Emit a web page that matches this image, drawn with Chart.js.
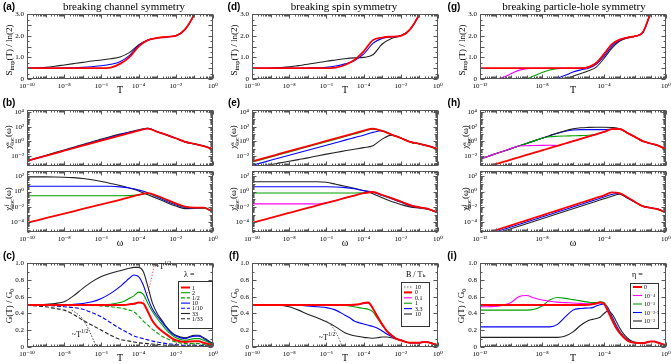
<!DOCTYPE html>
<html>
<head>
<meta charset="utf-8">
<title>Breaking channel, spin and particle-hole symmetry</title>
<script src="https://cdn.jsdelivr.net/npm/chart.js@4.4.1/dist/chart.umd.min.js"></script>
<style>
  html, body { margin: 0; padding: 0; background: #fff; }
  body { position: relative; width: 671px; height: 364px; overflow: hidden;
         font-family: "Liberation Serif", "DejaVu Serif", serif; color: #000; }
  canvas { position: absolute; }
  .txt { position: absolute; transform: translate(-50%, -50%); white-space: nowrap; line-height: 1; }
  .rot { transform: translate(-50%, -50%) rotate(-90deg); }
  .letter { font: bold 10px "Liberation Sans", "DejaVu Sans", sans-serif; }
  .head { font-size: 11px; }
  .ylab { font-size: 9px; }
  .note { font-size: 8px; }
  sub, sup { font-size: 70%; line-height: 0; }
  .ss { display: inline-block; vertical-align: middle; font-size: 70%; line-height: 0.85; text-align: left; }
</style>
</head>
<body>
<script>
// ---- x grids, log10(T) or log10(omega) ----
const logT10 = [-10,-9.5,-9,-8.5,-8,-7.5,-7,-6.5,-6,-5.5,-5,-4.5,-4,-3.5,-3,-2.5,-2,-1.5,-1,-0.5,0];
const logT12 = [-12,-11.5,-11,-10.5,-10,-9.5,-9,-8.5,-8,-7.5,-7,-6.5,-6,-5.5,-5,-4.5,-4,-3.5,-3,-2.5,-2,-1.5,-1,-0.5,0];
const logTG10 = [-10,-9.5,-9,-8.5,-8,-7.5,-7,-6.5,-6,-5.5,-5,-4.75,-4.5,-4.25,-4,-3.75,-3.5,-3.25,-3,-2.75,-2.5,-2.25,-2,-1.5,-1,-0.75,-0.5,0];
const logTG12 = [-12,-11.5,-11,-10.5,-10,-9.5,-9,-8.5,-8,-7.5,-7,-6.5,-6,-5.5,-5,-4.75,-4.5,-4.25,-4,-3.75,-3.5,-3.25,-3,-2.75,-2.5,-2.25,-2,-1.5,-1,-0.75,-0.5,0];

const ticks10 = [-10, -8, -6, -4, -2, 0];
const ticks12 = [-12, -8, -4, 0];
const chiTopTicks = [4, 2, 0, -2];
const chiBotTicks = [2, 0, -2, -4];

// ---- (a) S_imp / ln2, channel asymmetry ----
const aRed   = [0.5,0.5,0.5,0.5,0.5,0.5,0.5,0.5,0.5,0.53,0.7,1.0,1.5,1.8,1.9,1.95,2.0,2.3,3.0,4.0,5.0];
const aBlue  = [0.5,0.5,0.5,0.5,0.51,0.52,0.54,0.57,0.61,0.68,0.8,1.08,1.55,1.8,1.9,1.95,2.0,2.3,3.0,4.0,5.0];
const aBlack = [0.5,0.51,0.54,0.59,0.65,0.71,0.77,0.83,0.88,0.94,1.02,1.22,1.58,1.81,1.9,1.95,2.0,2.3,3.0,4.0,5.0];

// ---- (d) S_imp / ln2, spin symmetry ----
const dRed   = [0.5,0.5,0.5,0.5,0.5,0.5,0.5,0.5,0.5,0.53,0.65,0.88,1.28,1.8,1.92,1.96,2.0,2.3,3.0,4.0,5.0];
const dBlue  = [0.5,0.5,0.5,0.5,0.5,0.5,0.51,0.52,0.54,0.6,0.7,0.85,1.15,1.65,1.88,1.95,2.0,2.3,3.0,4.0,5.0];
const dBlack = [0.5,0.5,0.51,0.53,0.56,0.62,0.68,0.75,0.82,0.88,0.94,0.98,1.0,1.12,1.62,1.88,2.0,2.3,3.0,4.0,5.0];

// ---- (g) S_imp / ln2, particle-hole symmetry ----
const gRed     = [0.5,0.5,0.5,0.5,0.5,0.5,0.5,0.5,0.5,0.5,0.5,0.5,0.5,0.5,0.55,0.74,1.15,1.6,1.82,1.92,1.98,2.15,3.05,4.0,5.0];
const gMagenta = [0,0,0,0.08,0.24,0.4,0.48,0.5,0.5,0.5,0.5,0.5,0.5,0.5,0.55,0.74,1.15,1.6,1.82,1.92,1.98,2.15,3.05,4.0,5.0];
const gGreen   = [0,0,0,0,0,0,0.02,0.15,0.3,0.42,0.48,0.5,0.5,0.5,0.55,0.74,1.15,1.6,1.82,1.92,1.98,2.15,3.05,4.0,5.0];
const gBlue    = [0,0,0,0,0,0,0,0,0,0,0.04,0.17,0.32,0.42,0.5,0.68,1.05,1.5,1.78,1.9,1.98,2.15,3.05,4.0,5.0];
const gBlack   = [0,0,0,0,0,0,0,0,0,0,0,0.04,0.13,0.25,0.38,0.55,0.95,1.42,1.75,1.9,1.98,2.15,3.05,4.0,5.0];

// ---- (b) susceptibilities, log10 values ----
const bTopRed   = [-2.67,-2.33,-1.98,-1.64,-1.29,-0.95,-0.6,-0.26,0.09,0.43,0.78,1.12,1.45,1.74,1.3,0.88,0.42,-0.08,-0.35,-0.65,-1.08];
const bTopBlue  = [-2.67,-2.33,-1.98,-1.62,-1.26,-0.9,-0.54,-0.17,0.19,0.54,0.9,1.22,1.52,1.76,1.3,0.88,0.42,-0.08,-0.35,-0.65,-1.08];
const bTopBlack = [-2.67,-2.3,-1.93,-1.55,-1.18,-0.8,-0.43,-0.05,0.3,0.65,0.98,1.28,1.56,1.77,1.3,0.88,0.42,-0.08,-0.35,-0.65,-1.08];
const bBotRed   = [-4.07,-3.77,-3.47,-3.17,-2.87,-2.57,-2.27,-1.97,-1.67,-1.37,-1.07,-0.77,-0.45,-0.22,-0.55,-1.05,-1.55,-1.95,-2.08,-2.1,-2.6];
const bBotGreen = [-0.55,-0.55,-0.55,-0.55,-0.55,-0.55,-0.55,-0.55,-0.55,-0.55,-0.55,-0.54,-0.44,-0.26,-0.62,-1.12,-1.62,-2.0,-2.1,-2.12,-2.62];
const bBotBlue  = [0.69,0.69,0.69,0.69,0.69,0.69,0.69,0.69,0.69,0.68,0.6,0.45,0.2,-0.15,-0.72,-1.25,-1.72,-2.08,-2.15,-2.13,-2.63];
const bBotBlack = [1.9,1.9,1.9,1.89,1.86,1.8,1.7,1.52,1.3,1.05,0.78,0.45,0.08,-0.42,-0.9,-1.42,-1.88,-2.22,-2.2,-2.15,-2.65];

// ---- (e) ----
const eTopRed   = [-2.75,-2.4,-2.05,-1.7,-1.35,-1.0,-0.65,-0.3,0.05,0.4,0.75,1.1,1.45,1.74,1.42,0.92,0.45,-0.08,-0.35,-0.65,-1.08];
const eTopGreen = [-2.85,-2.5,-2.15,-1.8,-1.45,-1.1,-0.75,-0.4,-0.05,0.3,0.65,1.0,1.35,1.66,1.42,0.92,0.45,-0.08,-0.35,-0.65,-1.08];
const eTopBlue  = [-3.29,-2.95,-2.6,-2.26,-1.91,-1.57,-1.22,-0.88,-0.53,-0.19,0.16,0.5,0.84,1.22,1.45,0.94,0.45,-0.08,-0.35,-0.65,-1.08];
const eTopBlack = [-3.6,-3.4,-3.2,-2.95,-2.73,-2.5,-2.27,-2.0,-1.75,-1.52,-1.3,-1.08,-0.86,-0.6,0.3,0.85,0.45,-0.08,-0.35,-0.65,-1.08];
const eBotRed     = [-4.07,-3.75,-3.43,-3.1,-2.78,-2.46,-2.13,-1.81,-1.49,-1.17,-0.84,-0.52,-0.22,-0.06,-0.45,-0.85,-1.3,-1.76,-2.05,-2.28,-2.75];
const eBotMagenta = [-1.6,-1.6,-1.6,-1.6,-1.6,-1.6,-1.6,-1.62,-1.48,-1.17,-0.84,-0.52,-0.22,-0.06,-0.45,-0.85,-1.3,-1.76,-2.05,-2.28,-2.75];
const eBotGreen   = [-0.2,-0.2,-0.2,-0.2,-0.2,-0.2,-0.2,-0.2,-0.2,-0.2,-0.2,-0.2,-0.18,-0.1,-0.47,-0.87,-1.32,-1.78,-2.06,-2.29,-2.76];
const eBotBlue    = [0.62,0.62,0.62,0.62,0.62,0.62,0.62,0.62,0.62,0.58,0.5,0.35,0.12,-0.1,-0.52,-0.95,-1.4,-1.85,-2.1,-2.3,-2.77];
const eBotBlack   = [1.27,1.27,1.27,1.27,1.27,1.27,1.27,1.27,1.2,0.95,0.68,0.42,0.12,-0.28,-0.82,-1.3,-1.68,-2.0,-2.15,-2.32,-2.78];

// ---- (h) ----
const hTopRed     = [-3.76,-3.45,-3.13,-2.82,-2.5,-2.19,-1.87,-1.56,-1.24,-0.93,-0.61,-0.3,0.02,0.33,0.65,0.96,1.28,1.65,1.68,1.15,0.6,0.02,-0.3,-0.58,-1.08];
const hTopMagenta = [-2.42,-2.07,-1.71,-1.36,-1.0,-0.65,-0.6,-0.57,-0.55,-0.54,-0.58,-0.3,0.02,0.33,0.65,0.96,1.28,1.65,1.68,1.15,0.6,0.02,-0.3,-0.58,-1.08];
const hTopGreen   = [-2.42,-2.07,-1.71,-1.36,-1.0,-0.65,-0.29,0.06,0.42,0.62,0.68,0.72,0.75,0.78,0.82,0.95,1.28,1.65,1.68,1.15,0.6,0.02,-0.3,-0.58,-1.08];
const hTopBlue    = [-2.42,-2.07,-1.71,-1.36,-1.0,-0.65,-0.29,0.06,0.42,0.77,1.1,1.38,1.55,1.6,1.6,1.6,1.6,1.65,1.69,1.15,0.6,0.02,-0.3,-0.58,-1.08];
const hTopBlack   = [-2.42,-2.07,-1.71,-1.36,-1.0,-0.65,-0.29,0.06,0.42,0.77,1.13,1.45,1.7,1.85,1.9,1.92,1.92,1.88,1.72,1.15,0.6,0.02,-0.3,-0.58,-1.08];
const hBotRed   = [-5.69,-5.36,-5.04,-4.71,-4.39,-4.06,-3.74,-3.41,-3.09,-2.76,-2.44,-2.11,-1.79,-1.46,-1.14,-0.81,-0.49,-0.12,-0.2,-0.75,-1.35,-1.9,-2.12,-2.32,-2.75];
const hBotBlue  = [-5.91,-5.58,-5.26,-4.93,-4.61,-4.28,-3.96,-3.63,-3.31,-2.98,-2.66,-2.33,-2.01,-1.68,-1.36,-1.03,-0.71,-0.38,-0.22,-0.8,-1.36,-1.9,-2.12,-2.32,-2.75];
const hBotBlack = [-6.14,-5.81,-5.49,-5.16,-4.84,-4.51,-4.19,-3.86,-3.54,-3.21,-2.89,-2.56,-2.24,-1.91,-1.59,-1.26,-0.94,-0.62,-0.35,-0.85,-1.38,-1.9,-2.12,-2.32,-2.75];

// ---- (c) G/G0 vs T, lambda ----
const cRed    = [0.5,0.5,0.5,0.5,0.5,0.5,0.5,0.5,0.5,0.5,0.5,0.5,0.51,0.515,0.53,0.52,0.42,0.31,0.24,0.19,0.15,0.11,0.08,0.06,0.07,0.07,0.05,0.02];
const cGreen  = [0.5,0.5,0.5,0.5,0.5,0.5,0.5,0.5,0.5,0.51,0.53,0.55,0.58,0.61,0.655,0.63,0.52,0.42,0.34,0.27,0.2,0.15,0.11,0.08,0.1,0.1,0.08,0.03];
const cGreenD = [0.5,0.5,0.5,0.5,0.5,0.5,0.5,0.5,0.49,0.48,0.465,0.455,0.44,0.42,0.37,0.31,0.26,0.21,0.17,0.13,0.1,0.08,0.06,0.04,0.04,0.04,0.03,0.02];
const cBlue   = [0.5,0.5,0.5,0.5,0.5,0.51,0.52,0.54,0.58,0.64,0.72,0.77,0.82,0.86,0.84,0.74,0.58,0.45,0.37,0.3,0.23,0.17,0.13,0.1,0.13,0.13,0.1,0.03];
const cBlueD  = [0.5,0.5,0.5,0.49,0.48,0.47,0.45,0.41,0.36,0.29,0.22,0.19,0.16,0.13,0.115,0.1,0.085,0.07,0.06,0.05,0.04,0.035,0.03,0.02,0.02,0.02,0.015,0.01];
const cBlack  = [0.5,0.5,0.51,0.52,0.54,0.61,0.7,0.78,0.84,0.88,0.91,0.925,0.94,0.95,0.95,0.9,0.72,0.52,0.4,0.32,0.24,0.18,0.14,0.11,0.14,0.14,0.11,0.04];
const cBlackD = [0.5,0.49,0.48,0.46,0.44,0.39,0.32,0.26,0.2,0.14,0.09,0.08,0.07,0.06,0.05,0.045,0.04,0.035,0.03,0.025,0.02,0.02,0.015,0.01,0.01,0.01,0.01,0.01];
const cFitLowT  = [-7.6,-7.2,-7.0,-6.8,-6.6,-6.4,-6.25];
const cFitLow   = [0.44,0.38,0.33,0.26,0.17,0.07,0.0];
const cFitHighT = [-3.9,-3.7,-3.5,-3.35,-3.25,-3.15,-3.05];
const cFitHigh  = [0.53,0.56,0.66,0.78,0.88,1.0,1.12];
const cLabels = ['1', '2', '1/2', '10', '1/10', '33', '1/33'];

// ---- (f) G/G0 vs T, B/T_K ----
const fRed     = [0.5,0.5,0.5,0.5,0.5,0.5,0.5,0.5,0.5,0.5,0.5,0.5,0.505,0.51,0.525,0.53,0.46,0.36,0.27,0.19,0.14,0.1,0.08,0.05,0.05,0.06,0.055,0.02];
const fMagenta = [0.5,0.5,0.5,0.5,0.5,0.5,0.5,0.5,0.5,0.5,0.5,0.5,0.503,0.508,0.52,0.525,0.46,0.36,0.27,0.19,0.14,0.1,0.08,0.05,0.05,0.06,0.055,0.02];
const fGreen   = [0.5,0.5,0.5,0.5,0.5,0.5,0.5,0.5,0.5,0.5,0.495,0.49,0.48,0.47,0.46,0.45,0.42,0.34,0.26,0.19,0.14,0.1,0.08,0.05,0.05,0.06,0.055,0.02];
const fBlue    = [0.5,0.5,0.5,0.5,0.5,0.5,0.49,0.48,0.47,0.44,0.38,0.35,0.31,0.29,0.275,0.26,0.245,0.225,0.19,0.155,0.125,0.1,0.08,0.05,0.05,0.06,0.055,0.02];
const fBlack   = [0.5,0.5,0.5,0.5,0.48,0.44,0.39,0.35,0.3,0.24,0.17,0.15,0.135,0.125,0.115,0.11,0.105,0.11,0.12,0.12,0.11,0.095,0.08,0.05,0.05,0.06,0.055,0.02];
const fFitT = [-6.0,-5.75,-5.5,-5.3,-5.15];
const fFit  = [0.31,0.26,0.18,0.09,0.0];
const fLabels = ['10', '0', '0.1', '1', '3.3', '10'];

// ---- (i) G/G0 vs T, eta ----
const iRed     = [0.5,0.5,0.5,0.5,0.5,0.5,0.5,0.5,0.5,0.5,0.5,0.5,0.5,0.5,0.505,0.51,0.52,0.53,0.515,0.43,0.33,0.24,0.17,0.12,0.08,0.06,0.05,0.045,0.065,0.065,0.05,0.02];
const iMagenta = [0.48,0.48,0.485,0.5,0.53,0.6,0.615,0.585,0.56,0.545,0.535,0.53,0.525,0.52,0.515,0.515,0.52,0.53,0.52,0.435,0.33,0.24,0.17,0.12,0.08,0.06,0.05,0.045,0.065,0.065,0.05,0.02];
const iGreen   = [0.44,0.44,0.44,0.44,0.44,0.44,0.44,0.45,0.49,0.56,0.59,0.58,0.565,0.55,0.535,0.53,0.53,0.54,0.53,0.45,0.35,0.25,0.18,0.12,0.08,0.06,0.05,0.045,0.065,0.065,0.05,0.02];
const iBlue    = [0.24,0.24,0.24,0.24,0.24,0.24,0.24,0.24,0.24,0.24,0.27,0.36,0.44,0.46,0.465,0.47,0.49,0.505,0.515,0.47,0.37,0.27,0.19,0.13,0.09,0.065,0.05,0.045,0.065,0.065,0.05,0.02];
const iBlack   = [0.115,0.115,0.115,0.115,0.115,0.115,0.115,0.115,0.115,0.115,0.115,0.13,0.18,0.26,0.315,0.33,0.34,0.355,0.4,0.43,0.4,0.32,0.23,0.16,0.11,0.075,0.055,0.045,0.065,0.065,0.05,0.02];
const iLabels = ['0', '10⁻⁴', '10⁻³', '10⁻²·⁵', '10⁻²'];

// ---- styling ----
const RED = '#ff0000', GREEN = '#00a000', BLUE = '#0000ff', BLACK = '#222222', MAGENTA = '#ff00ff', GREY = '#555555';
const FONT = '"Liberation Serif", "DejaVu Serif", serif';
const DASH = [4, 2], DOT = [1.5, 1.5];
const W = 186;
const COL = [27, 252, 480];

const SUP = {'-': '⁻', '.': '·', '0': '⁰', '1': '¹', '2': '²', '3': '³', '4': '⁴', '5': '⁵', '6': '⁶', '7': '⁷', '8': '⁸', '9': '⁹'};
function pow10(n) { return '10' + String(n).split('').map(c => SUP[c]).join(''); }

function line(logx, ys, color, extra) {
  return Object.assign({
    data: logx.map((e, i) => ({x: Math.pow(10, e), y: ys[i]})),
    borderColor: color,
    borderWidth: color === RED ? 1.8 : 1.1,
    fill: false
  }, extra || {});
}
function lineLog(logx, logys, color, extra) {
  return line(logx, logys.map(v => Math.pow(10, v)), color, extra);
}

function logMarks(scale, major) {
  const out = [];
  const lo = Math.floor(Math.log10(scale.min)), hi = Math.ceil(Math.log10(scale.max));
  for (let n = lo; n <= hi; n++) {
    for (let k = 1; k < 10; k++) {
      const v = k * Math.pow(10, n);
      if (v < scale.min * 0.999 || v > scale.max * 1.001) continue;
      out.push([v, k > 1 ? 2 : (major.includes(n) ? 4 : 3)]);
    }
  }
  return out;
}
function linMarks(scale) {
  const step = scale.options.ticks.stepSize;
  const out = [];
  for (let v = scale.min; v <= scale.max + 1e-9; v += step / 2) {
    out.push([v, Math.abs(v / step - Math.round(v / step)) < 1e-6 ? 4 : 2]);
  }
  return out;
}

// box + inward ticks on all four sides
const framePlugin = {
  id: 'frame',
  afterDatasetsDraw(chart, args, opts) {
    const {ctx, chartArea: a, scales: {x, y}} = chart;
    const L = Math.round(a.left) + 0.5, R = Math.round(a.right) - 0.5;
    const T = Math.round(a.top) + 0.5, B = Math.round(a.bottom) - 0.5;
    ctx.save();
    ctx.strokeStyle = GREY;
    ctx.lineWidth = 1;
    ctx.strokeRect(L, T, R - L, B - T);
    ctx.beginPath();
    logMarks(x, opts.xMajor || []).forEach(([v, len]) => {
      const p = Math.round(x.getPixelForValue(v)) + 0.5;
      ctx.moveTo(p, B); ctx.lineTo(p, B - len);
      ctx.moveTo(p, T); ctx.lineTo(p, T + len);
    });
    const ym = y.type === 'logarithmic' ? logMarks(y, opts.yMajor || []) : linMarks(y);
    ym.forEach(([v, len]) => {
      const p = Math.round(y.getPixelForValue(v)) + 0.5;
      ctx.moveTo(L, p); ctx.lineTo(L + len, p);
      ctx.moveTo(R, p); ctx.lineTo(R - len, p);
    });
    ctx.stroke();
    ctx.restore();
  }
};

// small framed legend inside the plot, built from the dataset styles
const legendPlugin = {
  id: 'boxLegend',
  afterDatasetsDraw(chart, args, o) {
    if (!o || !o.box) return;
    const {ctx, chartArea: a} = chart;
    const L = Math.round(a.left), T = Math.round(a.top);
    ctx.save();
    ctx.fillStyle = '#fff';
    ctx.fillRect(L + o.box[0], T + o.box[1], o.box[2], o.box[3]);
    ctx.strokeStyle = '#333';
    ctx.lineWidth = 1;
    ctx.strokeRect(L + o.box[0] + 0.5, T + o.box[1] + 0.5, o.box[2], o.box[3]);
    ctx.fillStyle = '#000';
    ctx.textBaseline = 'middle';
    ctx.textAlign = 'left';
    ctx.font = '8px ' + FONT;
    ctx.fillText(o.title, L + o.titleX, T + o.titleY);
    ctx.font = '6px ' + FONT;
    const sets = chart.data.datasets.filter(d => d.label);
    o.order.forEach((idx, i) => {
      const d = sets[idx];
      const yy = T + o.row0 + i * o.step;
      ctx.strokeStyle = d.borderColor;
      ctx.lineWidth = d.borderWidth;
      ctx.setLineDash(d.borderDash || []);
      ctx.beginPath();
      ctx.moveTo(L + o.line[0], yy);
      ctx.lineTo(L + o.line[1], yy);
      ctx.stroke();
      ctx.setLineDash([]);
      ctx.fillText(d.label, L + o.textX, yy + 0.5);
    });
    ctx.restore();
  }
};

function yLinear(max, step) {
  return {type: 'linear', min: 0, max: max,
    ticks: {stepSize: step, font: {family: FONT, size: 7}, color: '#000', padding: 3}};
}
function yLog(lo, hi, labels) {
  return {type: 'logarithmic', min: Math.pow(10, lo), max: Math.pow(10, hi),
    afterBuildTicks: s => { s.ticks = labels.map(e => ({value: Math.pow(10, e)})); },
    ticks: {font: {family: FONT, size: 7}, color: '#000', padding: 3, autoSkip: false,
      callback: v => pow10(Math.round(Math.log10(v)))}};
}

function panel(l, t, h, o) {
  const padL = 34, padT = 6, padR = 12;
  const padB = o.xTitle ? 17 : 4;
  const cv = document.createElement('canvas');
  cv.width = padL + W + padR;
  cv.height = padT + h + padB;
  cv.style.left = (l - padL) + 'px';
  cv.style.top = (t - padT) + 'px';
  document.body.appendChild(cv);
  new Chart(cv, {
    type: 'line',
    data: {datasets: o.datasets},
    options: {
      responsive: false,
      animation: false,
      events: [],
      layout: {padding: {left: 0, top: padT, right: padR, bottom: o.xTitle ? 0 : padB}},
      elements: {point: {radius: 0}, line: {cubicInterpolationMode: 'monotone'}},
      plugins: {
        legend: {display: false},
        tooltip: {enabled: false},
        frame: {xMajor: o.xTicks, yMajor: o.yMajor || []},
        boxLegend: o.legend || {}
      },
      scales: {
        x: {
          type: 'logarithmic',
          min: Math.pow(10, o.xTicks[0]),
          max: 1,
          display: !!o.xTitle,
          grid: {display: false, drawTicks: false},
          border: {display: false},
          afterBuildTicks: s => { s.ticks = o.xTicks.map(e => ({value: Math.pow(10, e)})); },
          afterFit: s => { s.height = padB; },
          ticks: {font: {family: FONT, size: 7}, color: '#000', padding: 3, maxRotation: 0, autoSkip: false,
            callback: v => pow10(Math.round(Math.log10(v)))},
          title: {display: !!o.xTitle, text: o.xTitle || '', font: {family: FONT, size: 10}, color: '#000', padding: 0}
        },
        y: Object.assign({
          grid: {display: false, drawTicks: false},
          border: {display: false},
          afterFit: s => { s.width = padL; }
        }, o.y)
      }
    },
    plugins: [framePlugin, legendPlugin]
  });
}

function put(html, x, y, cls) {
  const d = document.createElement('div');
  d.className = 'txt ' + (cls || '');
  d.innerHTML = html;
  d.style.left = x + 'px';
  d.style.top = y + 'px';
  document.body.appendChild(d);
}

// ---- row 1: entropy ----
panel(COL[0], 13, 66, {xTicks: ticks10, xTitle: 'T', y: yLinear(3, 0.5), datasets: [
  line(logT10, aRed, RED), line(logT10, aBlue, BLUE), line(logT10, aBlack, BLACK)]});
panel(COL[1], 13, 66, {xTicks: ticks10, xTitle: 'T', y: yLinear(3, 0.5), datasets: [
  line(logT10, dRed, RED), line(logT10, dBlue, BLUE), line(logT10, dBlack, BLACK)]});
panel(COL[2], 13, 66, {xTicks: ticks12, xTitle: 'T', y: yLinear(3, 0.5), datasets: [
  line(logT12, gRed, RED), line(logT12, gMagenta, MAGENTA), line(logT12, gGreen, GREEN),
  line(logT12, gBlue, BLUE), line(logT12, gBlack, BLACK)]});

// ---- row 2: local susceptibilities ----
panel(COL[0], 109, 61, {xTicks: ticks10, y: yLog(-3.375, 4.25, chiTopTicks), yMajor: chiTopTicks, datasets: [
  lineLog(logT10, bTopRed, RED), lineLog(logT10, bTopBlue, BLUE), lineLog(logT10, bTopBlack, BLACK)]});
panel(COL[0], 170, 62, {xTicks: ticks10, xTitle: 'ω', y: yLog(-5.26, 2.64, chiBotTicks), yMajor: chiBotTicks, datasets: [
  lineLog(logT10, bBotRed, RED), lineLog(logT10, bBotGreen, GREEN), lineLog(logT10, bBotBlue, BLUE),
  lineLog(logT10, bBotBlack, BLACK)]});
panel(COL[1], 109, 61, {xTicks: ticks10, y: yLog(-3.375, 4.25, chiTopTicks), yMajor: chiTopTicks, datasets: [
  lineLog(logT10, eTopRed, RED), lineLog(logT10, eTopGreen, GREEN), lineLog(logT10, eTopBlue, BLUE),
  lineLog(logT10, eTopBlack, BLACK)]});
panel(COL[1], 170, 62, {xTicks: ticks10, xTitle: 'ω', y: yLog(-5.26, 2.64, chiBotTicks), yMajor: chiBotTicks, datasets: [
  lineLog(logT10, eBotRed, RED), lineLog(logT10, eBotMagenta, MAGENTA), lineLog(logT10, eBotGreen, GREEN),
  lineLog(logT10, eBotBlue, BLUE), lineLog(logT10, eBotBlack, BLACK)]});
panel(COL[2], 109, 61, {xTicks: ticks12, y: yLog(-3.375, 4.25, chiTopTicks), yMajor: chiTopTicks, datasets: [
  lineLog(logT12, hTopRed, RED), lineLog(logT12, hTopMagenta, MAGENTA), lineLog(logT12, hTopGreen, GREEN),
  lineLog(logT12, hTopBlack, BLACK), lineLog(logT12, hTopBlue, BLUE)]});
panel(COL[2], 170, 62, {xTicks: ticks12, xTitle: 'ω', y: yLog(-5.26, 2.64, chiBotTicks), yMajor: chiBotTicks, datasets: [
  lineLog(logT12, hBotRed, RED), lineLog(logT12, hBotBlue, BLUE), lineLog(logT12, hBotBlack, BLACK)]});

// ---- row 3: conductance ----
panel(COL[0], 262, 85, {xTicks: ticks10, xTitle: 'T', y: yLinear(1, 0.2),
  legend: {box: [151, 18, 34, 47], title: 'λ =', titleX: 157, titleY: 12, row0: 24.5, step: 5.2,
           line: [154, 163], textX: 165, order: [0, 1, 2, 3, 4, 5, 6]},
  datasets: [
    line(logTG10, cRed, RED, {label: cLabels[0], borderWidth: 2}),
    line(logTG10, cGreen, GREEN, {label: cLabels[1]}),
    line(logTG10, cGreenD, GREEN, {label: cLabels[2], borderDash: DASH}),
    line(logTG10, cBlue, BLUE, {label: cLabels[3]}),
    line(logTG10, cBlueD, BLUE, {label: cLabels[4], borderDash: DASH}),
    line(logTG10, cBlack, BLACK, {label: cLabels[5]}),
    line(logTG10, cBlackD, BLACK, {label: cLabels[6], borderDash: DASH}),
    line(cFitLowT, cFitLow, '#444444', {borderDash: DOT, borderWidth: 1}),
    line(cFitHighT, cFitHigh, '#ff6060', {borderDash: DOT, borderWidth: 1})]});

panel(COL[1], 262, 85, {xTicks: ticks10, xTitle: 'T', y: yLinear(1, 0.2),
  legend: {box: [149, 19, 28, 44], title: 'B / T\u2096', titleX: 154, titleY: 12, row0: 24, step: 5.4,
           line: [152, 160], textX: 163, order: [0, 1, 2, 3, 4, 5]},
  datasets: [
    line(fFitT, fFit, '#666666', {label: fLabels[0], borderDash: DOT, borderWidth: 1}),
    line(logTG10, fRed, RED, {label: fLabels[1], borderWidth: 2}),
    line(logTG10, fMagenta, MAGENTA, {label: fLabels[2]}),
    line(logTG10, fGreen, GREEN, {label: fLabels[3]}),
    line(logTG10, fBlue, BLUE, {label: fLabels[4]}),
    line(logTG10, fBlack, BLACK, {label: fLabels[5]})]});

panel(COL[2], 262, 85, {xTicks: ticks12, xTitle: 'T', y: yLinear(1, 0.2),
  legend: {box: [150, 20, 28, 45], title: 'η =', titleX: 152, titleY: 12, row0: 24, step: 8.5,
           line: [153, 162], textX: 164, order: [0, 1, 2, 3, 4]},
  datasets: [
    line(logTG12, iRed, RED, {label: iLabels[0], borderWidth: 2}),
    line(logTG12, iMagenta, MAGENTA, {label: iLabels[1]}),
    line(logTG12, iGreen, GREEN, {label: iLabels[2]}),
    line(logTG12, iBlue, BLUE, {label: iLabels[3]}),
    line(logTG12, iBlack, BLACK, {label: iLabels[4]})]});

// ---- text: panel letters, headings, axis titles, notes ----
[['(a)', 9, 6], ['(b)', 9, 102], ['(c)', 9, 255],
 ['(d)', 234, 6], ['(e)', 234, 102], ['(f)', 234, 255],
 ['(g)', 454, 6], ['(h)', 454, 102], ['(i)', 452, 255]].forEach(([s, x, y]) => put(s, x, y, 'letter'));

put('breaking channel symmetry', 124, 6, 'head');
put('breaking spin symmetry', 344, 6, 'head');
put('breaking particle-hole symmetry', 574, 6, 'head');

const sLab = 'S<sub>imp</sub>(T) / ln(2)';
const chiTop = 'χ<span class="ss">s<br>loc</span>(ω)';
const chiBot = 'χ<span class="ss">f<br>loc</span>(ω)';
const gLab = 'G(T) / G<sub>0</sub>';
[[sLab, 8.5, 50], [sLab, 233.5, 50], [sLab, 462, 50],
 [chiTop, 9, 137], [chiTop, 234, 137], [chiTop, 466, 137],
 [chiBot, 9, 199], [chiBot, 234, 199], [chiBot, 466, 199],
 [gLab, 9, 306], [gLab, 234, 306], [gLab, 461, 306]].forEach(([s, x, y]) => put(s, x, y, 'ylab rot'));

put('~T<sup>1/2</sup>', 163, 267, 'note');
put('~T<sup>1/2</sup>', 80, 335, 'note');
put('~T<sup>1/2</sup>', 327, 338, 'note');
</script>
</body>
</html>
